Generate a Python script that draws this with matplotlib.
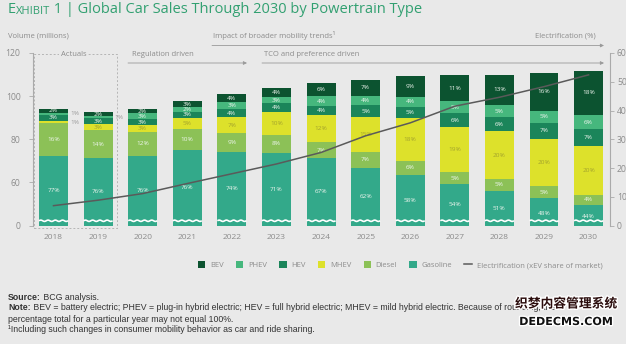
import numpy as np
import matplotlib.pyplot as plt
import matplotlib.patheffects as pe
from matplotlib.patches import Rectangle, Patch
from matplotlib.lines import Line2D

plt.rcParams['font.family'] = ['Open Sans', 'DejaVu Sans']

years = ['2018', '2019', '2020', '2021', '2022', '2023', '2024',
         '2025', '2026', '2027', '2028', '2029', '2030']
totals = [94.1, 92.6, 94.0, 97.7, 101.1, 103.9, 106.2,
          107.6, 109.3, 109.6, 110.0, 110.7, 111.6]

# shares in %, stacked bottom -> top
gasoline = [77, 76, 76, 76, 74, 71, 67, 62, 58, 54, 51, 48, 44]
diesel = [16, 14, 12, 10, 9, 8, 7, 7, 6, 5, 5, 5, 4]
mhev = [1, 3, 3, 5, 7, 10, 12, 15, 18, 19, 20, 20, 20]
hev = [3, 3, 3, 3, 4, 4, 4, 5, 5, 6, 6, 7, 7]
phev = [1, 1, 3, 2, 3, 3, 4, 4, 4, 5, 5, 5, 6]
bev = [2, 2, 2, 3, 4, 4, 6, 7, 9, 11, 13, 16, 18]

electrification = [6.9, 8.8, 11.1, 14.6, 18.0, 21.4, 25.4,
                   31.2, 35.7, 41.5, 44.6, 48.3, 52.4]

series = [('Gasoline', gasoline, '#33a98a'),
          ('Diesel', diesel, '#8cc157'),
          ('MHEV', mhev, '#dde12b'),
          ('HEV', hev, '#1b855a'),
          ('PHEV', phev, '#46b77d'),
          ('BEV', bev, '#0c5330')]

left_ticks = [0, 60, 80, 100, 120]
right_ticks = [0, 10, 20, 30, 40, 50, 60]

BG = '#e9e9e9'
GREY = '#8c8c8c'
OFFSET = 40  # values below this are cut out of the left axis

fig = plt.figure(figsize=(6.26, 3.44), dpi=100, facecolor=BG)
ax = fig.add_axes([33 / 626, 1 - 225.5 / 344, 577 / 626, 172.5 / 344])
ax.set_facecolor(BG)

x = np.arange(len(years))
width = 0.65
shares = np.array([s[1] for s in series], dtype=float)
seg = shares / shares.sum(axis=0) * np.array(totals)
cum = np.vstack([np.zeros(len(years)), np.cumsum(seg, axis=0)])

for k, (name, vals, col) in enumerate(series):
    lo = np.maximum(cum[k] - OFFSET, 0)
    hi = cum[k + 1] - OFFSET
    ax.bar(x, hi - lo, bottom=lo, width=width, color=col, linewidth=0)
    for i in range(len(years)):
        mid = (lo[i] + hi[i]) / 2
        txt = f'{vals[i]}%'
        if vals[i] <= 1:
            # too thin for an inside label
            ax.text(x[i] + width / 2 + 0.05, mid, txt, ha='left', va='center',
                    fontsize=4.6, color='#9a9a9a')
            continue
        tc = '#a3a32c' if name == 'MHEV' else '#eef5ee'
        if name == 'Gasoline' and i >= 11:
            mid = hi[i] * 0.45
        ax.text(x[i], mid, txt, ha='center', va='center', fontsize=4.6,
                color=tc)

# axis break drawn through each bar
for xi in x:
    xx = np.linspace(xi - width / 2, xi + width / 2, 60)
    ax.plot(xx, 2.2 + 0.3 * np.sin((xx - xi) / width * 8 * np.pi),
            color='white', lw=1.2, solid_capstyle='butt')

ax.set_xlim(-0.46, 12.48)
ax.set_ylim(0, 80)
ax.set_xticks(x)
ax.set_xticklabels(years)
ax.set_yticks([v - OFFSET if v else 0 for v in left_ticks])
ax.set_yticklabels([str(v) for v in left_ticks])
ax.tick_params(axis='x', length=0, pad=6, labelsize=6, labelcolor=GREY)
ax.tick_params(axis='y', length=3, width=0.6, color='#aaaaaa', pad=6,
               labelsize=6.2, labelcolor=GREY)
for s in ['top', 'right', 'bottom']:
    ax.spines[s].set_visible(False)
ax.spines['left'].set_color('#aaaaaa')
ax.spines['left'].set_linewidth(0.8)

ax2 = ax.twinx()
ax2.plot(x, electrification, color='#5a5a5a', lw=1.1)
ax2.set_ylim(0, 60)
ax2.set_yticks(right_ticks)
ax2.tick_params(axis='y', length=3, width=0.6, color='#aaaaaa', pad=2,
                labelsize=6.2, labelcolor=GREY)
for s in ['top', 'left', 'bottom']:
    ax2.spines[s].set_visible(False)
ax2.spines['right'].set_color('#aaaaaa')
ax2.spines['right'].set_linewidth(0.8)

# dashed box around the actual years
ax.add_patch(Rectangle((-0.44, -1.3), 1.86, 80.8, fill=False, ls=(0, (2, 2)),
                       ec='#b5b5b5', lw=0.7, clip_on=False))
ax.text(0.45, 79.5, 'Actuals', ha='center', va='center', fontsize=5.5,
        color=GREY, bbox=dict(fc=BG, ec='none', pad=1.5))


def fpx(px, py):
    return px, 344 - py


arrow = dict(arrowstyle='-|>', color='#9a9a9a', lw=0.6, mutation_scale=5,
             shrinkA=0, shrinkB=0)
fig.text(8 / 626, 1 - 36 / 344, 'Volume (millions)', fontsize=5.5, color=GREY,
         va='center')
fig.text(213 / 626, 1 - 36 / 344, 'Impact of broader mobility trends\u00b9',
         fontsize=5.5, color=GREY, va='center')
fig.text(596 / 626, 1 - 36 / 344, 'Electrification (%)', fontsize=5.5,
         color=GREY, va='center', ha='right')
ax.annotate('', xy=fpx(604, 45.5), xytext=fpx(212, 45.5),
            xycoords='figure pixels', arrowprops=arrow)
fig.text(132 / 626, 1 - 55 / 344, 'Regulation driven', fontsize=5.5,
         color=GREY, va='center')
ax.annotate('', xy=fpx(247, 63), xytext=fpx(128, 63),
            xycoords='figure pixels', arrowprops=arrow)
fig.text(264 / 626, 1 - 55 / 344, 'TCO and preference driven', fontsize=5.5,
         color=GREY, va='center')
ax.annotate('', xy=fpx(604, 63), xytext=fpx(262, 63),
            xycoords='figure pixels', arrowprops=arrow)

# title with small-caps "Exhibit"
title_col = '#32a071'
t1 = fig.text(8 / 626, 1 - 13 / 344, 'E', fontsize=10.5, color=title_col,
              va='baseline')
t2 = ax.annotate('XHIBIT', xy=(1, 0), xycoords=t1, fontsize=8, color=title_col,
                 va='bottom')
ax.annotate(' 1 | Global Car Sales Through 2030 by Powertrain Type',
            xy=(1, 0), xycoords=t2, fontsize=10.5, color=title_col,
            va='bottom')

# legend
handles = [Patch(fc=col, ec='none', label=name)
           for name, _, col in series[::-1]]
handles.append(Line2D([], [], color='#5a5a5a', lw=1.1,
                      label='Electrification (xEV share of market)'))
fig.legend(handles=handles, loc='center', bbox_to_anchor=(400 / 626, 1 - 265 / 344),
           ncol=7, frameon=False, fontsize=5.5, labelcolor=GREY,
           handlelength=1.0, handleheight=1.0, handletextpad=0.6,
           columnspacing=1.6)

# footnotes
foot = dict(fontsize=6.3, color='#333333',
            family=['Liberation Sans', 'DejaVu Sans'])


def foot_line(y, bold, rest):
    if bold:
        a = fig.text(8 / 626, 1 - y / 344, bold, weight='bold', va='center',
                     **foot)
        ax.annotate(' ' + rest, xy=(1, 0.5), xycoords=a, va='center', **foot)
    else:
        fig.text(8 / 626, 1 - y / 344, rest, va='center', **foot)


foot_line(297, 'Source:', 'BCG analysis.')
foot_line(308, 'Note:', 'BEV = battery electric; PHEV = plug-in hybrid electric; '
          'HEV = full hybrid electric; MHEV = mild hybrid electric. Because of '
          'rounding, the')
foot_line(319, None, 'percentage total for a particular year may not equal 100%.')
foot_line(330, None, '\u00b9Including such changes in consumer mobility behavior '
          'as car and ride sharing.')

wm = [pe.withStroke(linewidth=2, foreground='white')]
fig.text(566 / 626, 1 - 304 / 344, '织梦内容管理系统', fontsize=9.2,
         family=['Noto Sans CJK SC'], color='#2a0c0c', ha='center',
         va='center', weight='bold', path_effects=wm)
fig.text(566 / 626, 1 - 322 / 344, 'DEDECMS.COM', fontsize=8,
         family=['DejaVu Sans'], color='#111111', ha='center', va='center',
         weight='bold', path_effects=wm)

fig.savefig('out.png', dpi=100, facecolor=BG)
